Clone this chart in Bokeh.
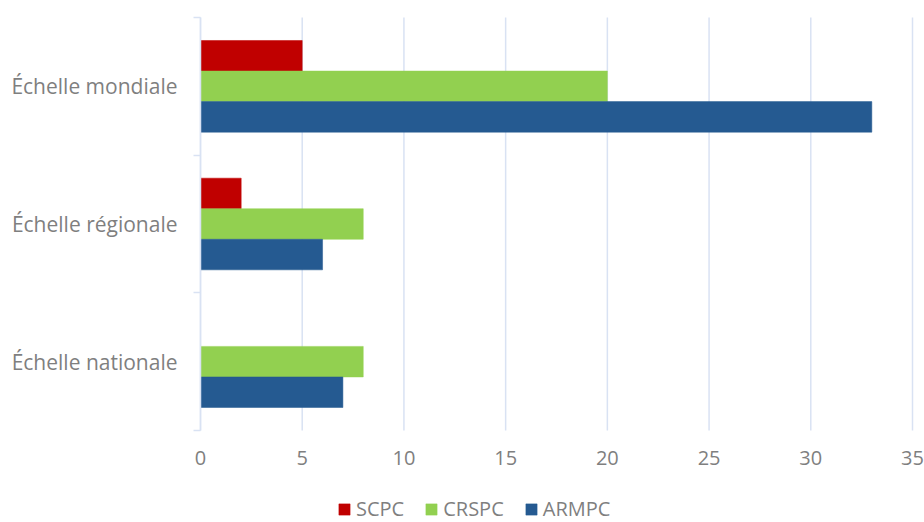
from bokeh.plotting import figure
from bokeh.models import (Range1d, LinearAxis, FixedTicker, ColumnDataSource, Legend,
                          LegendItem)
from bokeh.transform import dodge
from bokeh.embed import file_html
from bokeh.resources import INLINE

categories = ["Échelle nationale", "Échelle régionale", "Échelle mondiale"]
series = ["SCPC", "CRSPC", "ARMPC"]
scpc = [0, 2, 5]
crspc = [8, 8, 20]
armpc = [7, 6, 33]
colors = ["#c00000", "#92d050", "#255a91"]
x_ticks = [0, 5, 10, 15, 20, 25, 30, 35]
x_max = 35

FONT = "Open Sans"
GREY = "#7f7f7f"
GRID = "#d9e2f3"

# layout in pixels: the plotting area and the margins around it
W, H = 924, 522
LEFT, RIGHT, TOP, BOTTOM = 200, 12, 17, 92

n = len(categories)
centres = [i + 0.5 for i in range(n)]
edges = list(range(n + 1))

pxu = (W - LEFT - RIGHT) / x_max      # pixels per x unit
pyu = (H - TOP - BOTTOM) / n          # pixels per category band

src = ColumnDataSource(dict(pos=centres, cat=categories, SCPC=scpc, CRSPC=crspc, ARMPC=armpc))

p = figure(width=W, height=H, output_backend="svg", toolbar_location=None,
           x_range=Range1d(-LEFT / pxu, x_max + RIGHT / pxu),
           y_range=Range1d(-BOTTOM / pyu, n + TOP / pyu),
           x_axis_location=None, y_axis_location=None,
           min_border_left=0, min_border_right=0, min_border_top=0, min_border_bottom=0)
p.outline_line_color = None
p.background_fill_color = "white"
for g in p.grid:
    g.visible = False

# vertical grid lines, only over the category bands
p.segment(x0=x_ticks, x1=x_ticks, y0=[0] * len(x_ticks), y1=[n] * len(x_ticks),
          line_color=GRID, line_width=1.5)

bar_h = 0.222
offsets = [bar_h, 0, -bar_h]
renderers = []
for s, c, off in zip(series, colors, offsets):
    r = p.hbar(y=dodge("pos", off), right=s, left=0, height=bar_h,
               source=src, fill_color=c, line_color=c, line_width=0.5)
    renderers.append(r)

# x axis, anchored at the bottom of the category bands
xaxis = LinearAxis(ticker=FixedTicker(ticks=x_ticks), fixed_location=0,
                   axis_line_color=None, major_tick_line_color=None, major_tick_out=0,
                   minor_tick_line_color=None, minor_tick_out=0,
                   major_label_text_font=FONT, major_label_text_font_size="20px",
                   major_label_text_color=GREY, major_label_standoff=20)
p.add_layout(xaxis, "below")

# y axis at x = 0: labels at band centres, tick marks at band edges
yaxis = LinearAxis(ticker=FixedTicker(ticks=centres, minor_ticks=edges), bounds=(0, n),
                   fixed_location=0,
                   axis_line_color=GRID, axis_line_width=1.5,
                   major_tick_line_color=None,
                   minor_tick_line_color=GRID, minor_tick_line_width=1.5,
                   minor_tick_out=7, minor_tick_in=0,
                   major_label_overrides={c: t for c, t in zip(centres, categories)},
                   major_label_text_font=FONT, major_label_text_font_size="21px",
                   major_label_text_color=GREY, major_label_standoff=16)
p.add_layout(yaxis, "left")

legend = Legend(items=[LegendItem(label=s, renderers=[r]) for s, r in zip(series, renderers)],
                orientation="horizontal", location=(337, 0),
                label_text_font=FONT, label_text_font_size="20px", label_text_color=GREY,
                glyph_width=14, glyph_height=14, label_standoff=5, spacing=20,
                border_line_color=None, background_fill_alpha=0, padding=0, margin=0)
p.add_layout(legend, "center")

open("out.html", "w").write(file_html(p, INLINE))
